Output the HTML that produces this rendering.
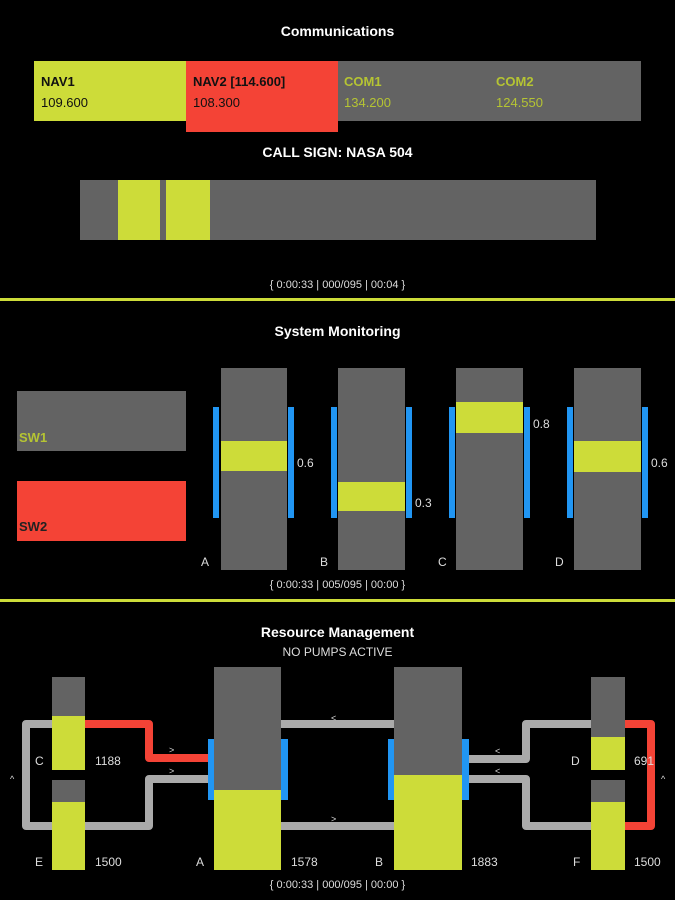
<!DOCTYPE html>
<html><head><meta charset="utf-8"><style>
body{margin:0;background:#000;width:675px;height:900px;position:relative;overflow:hidden;font-family:"Liberation Sans",sans-serif;color:#ddd}
.a{position:absolute}
.t{position:absolute;left:0;width:675px;text-align:center;font-weight:bold;font-size:14px;color:#fff}
.ts{position:absolute;left:0;width:675px;text-align:center;font-size:11px;color:#ddd}
.y{background:#cddc39}.r{background:#f44336}.g{background:#636363}.b{background:#2196f3}
.lbl{position:absolute;font-size:12px;color:#ddd}
.hr{position:absolute;left:0;width:675px;height:3px;background:#cddc39}
</style></head><body>
<div class="t" style="top:23px">Communications</div>
<div class="a g" style="left:34px;top:61px;width:607px;height:60px"></div>
<div class="a y" style="left:34px;top:61px;width:152px;height:60px"></div>
<div class="a r" style="left:186px;top:61px;width:152px;height:71px"></div>
<div class="a" style="left:41px;top:74px;font-size:13px;font-weight:bold;color:#111">NAV1</div>
<div class="a" style="left:41px;top:95px;font-size:13px;color:#111">109.600</div>
<div class="a" style="left:193px;top:74px;font-size:13px;font-weight:bold;color:#111">NAV2 [114.600]</div>
<div class="a" style="left:193px;top:95px;font-size:13px;color:#111">108.300</div>
<div class="a" style="left:344px;top:74px;font-size:13px;font-weight:bold;color:#b5c433">COM1</div>
<div class="a" style="left:344px;top:95px;font-size:13px;color:#b5c433">134.200</div>
<div class="a" style="left:496px;top:74px;font-size:13px;font-weight:bold;color:#b5c433">COM2</div>
<div class="a" style="left:496px;top:95px;font-size:13px;color:#b5c433">124.550</div>
<div class="t" style="top:144px">CALL SIGN: NASA 504</div>
<div class="a g" style="left:80px;top:180px;width:516px;height:60px"></div>
<div class="a y" style="left:118px;top:180px;width:42px;height:60px"></div>
<div class="a y" style="left:166px;top:180px;width:44px;height:60px"></div>
<div class="ts" style="top:279px">{ 0:00:33 | 000/095 | 00:04 }</div>
<div class="hr" style="top:298px"></div>

<div class="t" style="top:323px">System Monitoring</div>
<div class="a g" style="left:17px;top:391px;width:169px;height:60px"></div>
<div class="a" style="left:19px;top:430px;font-size:13px;font-weight:bold;color:#b5c433">SW1</div>
<div class="a r" style="left:17px;top:481px;width:169px;height:60px"></div>
<div class="a" style="left:19px;top:519px;font-size:13px;font-weight:bold;color:#222">SW2</div>

<div class="a b" style="left:213px;top:407px;width:6px;height:111px"></div><div class="a b" style="left:288px;top:407px;width:6px;height:111px"></div>
<div class="a g" style="left:221px;top:368px;width:66px;height:202px"></div><div class="a y" style="left:221px;top:441px;width:66px;height:30px"></div>
<div class="lbl" style="left:297px;top:456px">0.6</div><div class="lbl" style="left:201px;top:555px">A</div>

<div class="a b" style="left:331px;top:407px;width:6px;height:111px"></div><div class="a b" style="left:406px;top:407px;width:6px;height:111px"></div>
<div class="a g" style="left:338px;top:368px;width:67px;height:202px"></div><div class="a y" style="left:338px;top:482px;width:67px;height:29px"></div>
<div class="lbl" style="left:415px;top:496px">0.3</div><div class="lbl" style="left:320px;top:555px">B</div>

<div class="a b" style="left:449px;top:407px;width:6px;height:111px"></div><div class="a b" style="left:524px;top:407px;width:6px;height:111px"></div>
<div class="a g" style="left:456px;top:368px;width:67px;height:202px"></div><div class="a y" style="left:456px;top:402px;width:67px;height:31px"></div>
<div class="lbl" style="left:533px;top:417px">0.8</div><div class="lbl" style="left:438px;top:555px">C</div>

<div class="a b" style="left:567px;top:407px;width:6px;height:111px"></div><div class="a b" style="left:642px;top:407px;width:6px;height:111px"></div>
<div class="a g" style="left:574px;top:368px;width:67px;height:202px"></div><div class="a y" style="left:574px;top:441px;width:67px;height:31px"></div>
<div class="lbl" style="left:651px;top:456px">0.6</div><div class="lbl" style="left:555px;top:555px">D</div>

<div class="ts" style="top:579px">{ 0:00:33 | 005/095 | 00:00 }</div>
<div class="hr" style="top:599px"></div>

<div class="t" style="top:624px">Resource Management</div>
<div class="ts" style="top:645px;font-size:12px">NO PUMPS ACTIVE</div>

<svg class="a" style="left:0;top:0" width="675" height="900">
<g fill="none" stroke-width="8" stroke-linejoin="round">
<path d="M52 724 H26 V826 H149 V779 H210" stroke="#aaa"/>
<path d="M85 724 H149 V758 H210" stroke="#f44336"/>
<path d="M281 724 H394" stroke="#aaa"/>
<path d="M281 826 H394" stroke="#aaa"/>
<path d="M469 759 H526 V724 H591" stroke="#aaa"/>
<path d="M469 779 H526 V826 H591" stroke="#aaa"/>
<path d="M625 724 H651 V826 H625" stroke="#f44336"/>
</g>
<g fill="#ddd" font-size="9" font-family="Liberation Sans">
<text x="169" y="753">&gt;</text><text x="169" y="774">&gt;</text>
<text x="331" y="721">&lt;</text><text x="331" y="822">&gt;</text>
<text x="495" y="754">&lt;</text><text x="495" y="774">&lt;</text>
<text x="10" y="782">^</text><text x="661" y="782">^</text>
</g>
</svg>

<div class="a g" style="left:52px;top:677px;width:33px;height:93px"></div><div class="a y" style="left:52px;top:716px;width:33px;height:54px"></div>
<div class="a g" style="left:52px;top:780px;width:33px;height:90px"></div><div class="a y" style="left:52px;top:802px;width:33px;height:68px"></div>
<div class="a b" style="left:208px;top:739px;width:7px;height:61px"></div><div class="a b" style="left:281px;top:739px;width:7px;height:61px"></div>
<div class="a g" style="left:214px;top:667px;width:67px;height:203px"></div><div class="a y" style="left:214px;top:790px;width:67px;height:80px"></div>
<div class="a b" style="left:388px;top:739px;width:7px;height:61px"></div><div class="a b" style="left:462px;top:739px;width:7px;height:61px"></div>
<div class="a g" style="left:394px;top:667px;width:68px;height:203px"></div><div class="a y" style="left:394px;top:775px;width:68px;height:95px"></div>
<div class="a g" style="left:591px;top:677px;width:34px;height:93px"></div><div class="a y" style="left:591px;top:737px;width:34px;height:33px"></div>
<div class="a g" style="left:591px;top:780px;width:34px;height:90px"></div><div class="a y" style="left:591px;top:802px;width:34px;height:68px"></div>

<div class="lbl" style="left:35px;top:754px">C</div><div class="lbl" style="left:95px;top:754px">1188</div>
<div class="lbl" style="left:35px;top:855px">E</div><div class="lbl" style="left:95px;top:855px">1500</div>
<div class="lbl" style="left:196px;top:855px">A</div><div class="lbl" style="left:291px;top:855px">1578</div>
<div class="lbl" style="left:375px;top:855px">B</div><div class="lbl" style="left:471px;top:855px">1883</div>
<div class="lbl" style="left:571px;top:754px">D</div><div class="lbl" style="left:634px;top:754px">691</div>
<div class="lbl" style="left:573px;top:855px">F</div><div class="lbl" style="left:634px;top:855px">1500</div>
<div class="ts" style="top:879px">{ 0:00:33 | 000/095 | 00:00 }</div>
</body></html>
